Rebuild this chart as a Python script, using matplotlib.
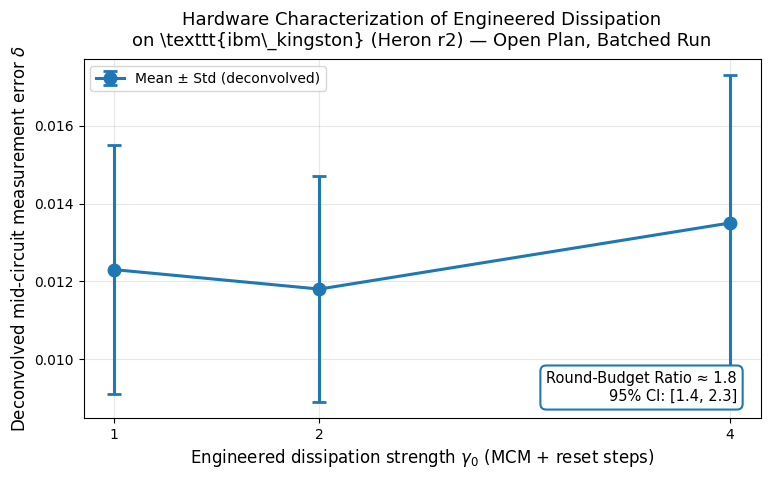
import matplotlib
matplotlib.use("Agg")
import matplotlib.pyplot as plt

gamma = [1, 2, 4]
delta_mean = [0.0123, 0.0118, 0.0135]
delta_std = [0.0032, 0.0029, 0.0038]
ratio = 1.8
ci = [1.4, 2.3]

fig, ax = plt.subplots(figsize=(7.7, 4.8), dpi=100)
ax.errorbar(gamma, delta_mean, yerr=delta_std, fmt="o-", color="#1f77b4",
            lw=2.2, ms=9, capsize=5, capthick=2, elinewidth=2.2,
            label="Mean ± Std (deconvolved)")
ax.set_xticks(gamma)
ax.set_xlabel(r"Engineered dissipation strength $\gamma_0$ (MCM + reset steps)", fontsize=12)
ax.set_ylabel(r"Deconvolved mid-circuit measurement error $\delta$", fontsize=12)
ax.set_title("Hardware Characterization of Engineered Dissipation\n"
             "on \\texttt{ibm\\_kingston} (Heron r2) — Open Plan, Batched Run",
             fontsize=13, pad=9.5)
ax.grid(True, alpha=0.3)
ax.legend(loc="upper left")
ax.text(0.965, 0.04, f"Round-Budget Ratio ≈ {ratio}\n95% CI: [{ci[0]}, {ci[1]}]",
        transform=ax.transAxes, ha="right", va="bottom", fontsize=10.5,
        bbox=dict(boxstyle="round,pad=0.4", fc="white", ec="#1f77b4", lw=1.5))
fig.subplots_adjust(left=0.1085, right=0.9877, top=0.877, bottom=0.129)
fig.savefig("out.png")
